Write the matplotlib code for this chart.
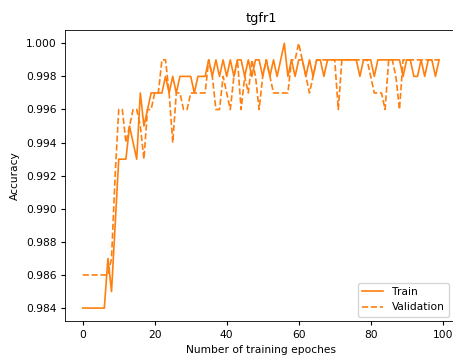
import matplotlib
matplotlib.use('Agg')
import matplotlib.pyplot as plt

# accuracy per epoch for the tgfr1 model
epochs = list(range(100))

train_acc = [
    0.984, 0.984, 0.984, 0.984, 0.984, 0.984, 0.984, 0.987, 0.985, 0.989,
    0.993, 0.993, 0.993, 0.995, 0.994, 0.993, 0.997, 0.995, 0.996, 0.997,
    0.997, 0.997, 0.997, 0.998, 0.997, 0.998, 0.997, 0.998, 0.998, 0.998,
    0.998, 0.997, 0.998, 0.998, 0.998, 0.999, 0.998, 0.999, 0.998, 0.999,
    0.998, 0.999, 0.998, 0.999, 0.999, 0.998, 0.999, 0.998, 0.999, 0.999,
    0.998, 0.999, 0.998, 0.999, 0.998, 0.999, 1.000, 0.998, 0.999, 0.998,
    0.999, 0.999, 0.998, 0.999, 0.998, 0.999, 0.999, 0.998, 0.999, 0.999,
    0.999, 0.999, 0.999, 0.999, 0.999, 0.999, 0.999, 0.998, 0.999, 0.999,
    0.999, 0.998, 0.999, 0.999, 0.999, 0.999, 0.999, 0.999, 0.999, 0.998,
    0.999, 0.999, 0.998, 0.998, 0.999, 0.998, 0.999, 0.999, 0.998, 0.999,
]

val_acc = [
    0.986, 0.986, 0.986, 0.986, 0.986, 0.986, 0.986, 0.986, 0.987, 0.992,
    0.996, 0.996, 0.994, 0.995, 0.996, 0.996, 0.995, 0.993, 0.996, 0.996,
    0.997, 0.997, 0.999, 0.999, 0.997, 0.994, 0.997, 0.997, 0.996, 0.996,
    0.997, 0.997, 0.997, 0.997, 0.997, 0.999, 0.998, 0.996, 0.996, 0.998,
    0.997, 0.996, 0.998, 0.999, 0.996, 0.998, 0.997, 0.999, 0.998, 0.996,
    0.998, 0.999, 0.998, 0.997, 0.997, 0.997, 0.997, 0.997, 0.999, 0.999,
    1.000, 0.999, 0.998, 0.997, 0.998, 0.999, 0.999, 0.999, 0.999, 0.999,
    0.999, 0.996, 0.999, 0.999, 0.999, 0.999, 0.999, 0.999, 0.999, 0.999,
    0.998, 0.997, 0.997, 0.997, 0.996, 0.999, 0.999, 0.998, 0.996, 0.999,
    0.999, 0.999, 0.999, 0.999, 0.999, 0.999, 0.999, 0.999, 0.999, 0.999,
]

plt.rcParams['font.size'] = 7.7
plt.rcParams['xtick.major.size'] = 2.6
plt.rcParams['ytick.major.size'] = 2.6
plt.rcParams['axes.linewidth'] = 0.6

fig = plt.figure(figsize=(4.53, 3.58), dpi=100)
ax = fig.add_axes([0.1433, 0.1025, 0.8653, 0.8135])

ax.plot(epochs, train_acc, color='C1', linewidth=1.2, label='Train')
ax.plot(epochs, val_acc, color='C1', linewidth=1.2, linestyle='--', label='Validation')

ax.set_xlim(-4.95, 103.95)
ax.set_ylim(0.9832, 1.0008)
ax.set_yticks([0.984, 0.986, 0.988, 0.990, 0.992, 0.994, 0.996, 0.998, 1.000])
ax.yaxis.set_major_formatter(matplotlib.ticker.FormatStrFormatter('%.3f'))

ax.set_title('tgfr1', fontsize=9.3)
ax.set_xlabel('Number of training epoches')
ax.set_ylabel('Accuracy')
ax.legend(loc='lower right', bbox_to_anchor=(0.98, 0.016), borderaxespad=0)

fig.savefig('out.png', dpi=100)
